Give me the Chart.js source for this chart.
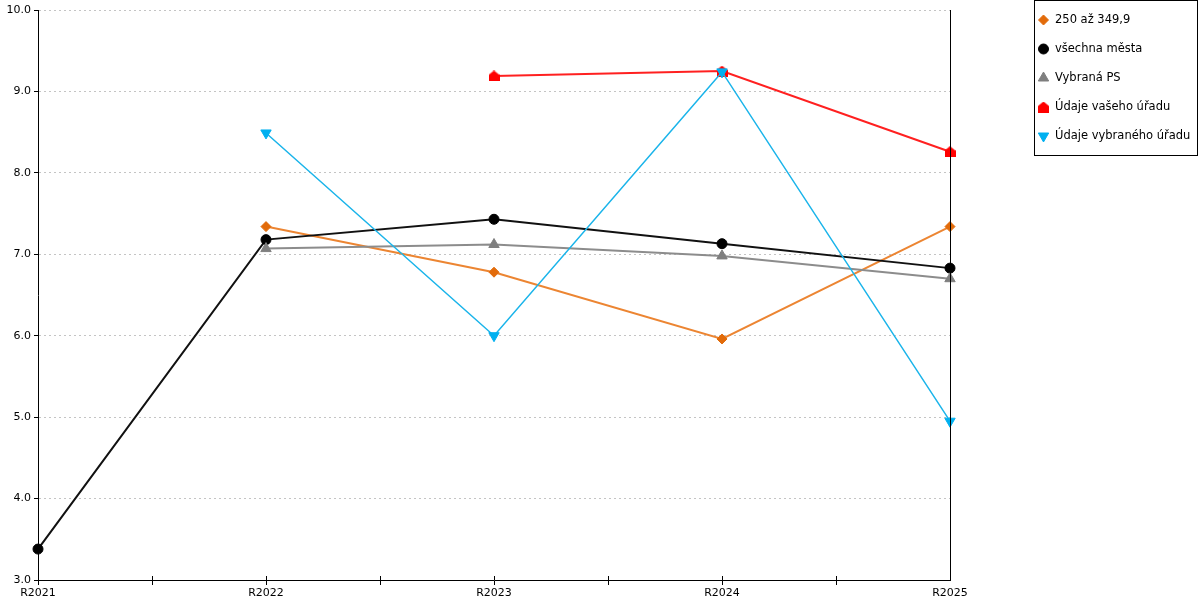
<!DOCTYPE html>
<html>
<head>
<meta charset="utf-8">
<script src="https://cdn.jsdelivr.net/npm/chart.js@4/dist/chart.umd.min.js"></script>
<style>
	html, body { margin: 0; padding: 0; background: #fff; }
	#wrap { width: 1200px; height: 600px; }
</style>
</head>
<body>
<div id="wrap"><canvas id="chart" width="1200" height="600"></canvas></div>
<script>
const categories = ["R2021", "R2022", "R2023", "R2024", "R2025"];
const seriesNames = ["250 až 349,9", "všechna města", "Vybraná PS", "Údaje vašeho úřadu", "Údaje vybraného úřadu"];
const groupValues = [null, 7.34, 6.78, 5.96, 7.34];
const allCities = [3.38, 7.18, 7.43, 7.13, 6.83];
const selectedPS = [null, 7.07, 7.12, 6.98, 6.70];
const yourOffice = [null, null, 9.19, 9.25, 8.26];
const chosenOffice = [null, 8.49, 6.0, 9.24, 4.95];
const yTicks = [3, 4, 5, 6, 7, 8, 9, 10];

// house shaped marker for "Údaje vašeho úřadu"
const house = document.createElement("canvas");
house.width = 11;
house.height = 11;
(function () {
	const c = house.getContext("2d");
	c.fillStyle = "#ff0000";
	c.beginPath();
	c.moveTo(5.5, 0);
	c.lineTo(11, 4.5);
	c.lineTo(11, 11);
	c.lineTo(0, 11);
	c.lineTo(0, 4.5);
	c.closePath();
	c.fill();
})();

const toPoints = (vals) => vals.map((v, i) => ({ x: i, y: v }));

const styles = [
	{ line: "#ec8532", fill: "#e26b0a", pointStyle: "rectRot", radius: 5, rotation: 0, width: 2 },
	{ line: "#111111", fill: "#000000", pointStyle: "circle", radius: 5, rotation: 0, width: 2 },
	{ line: "#8c8c8c", fill: "#7f7f7f", pointStyle: "triangle", radius: 6, rotation: 0, width: 2 },
	{ line: "#ff2020", fill: "#ff0000", pointStyle: house, radius: 6, rotation: 0, width: 2 },
	{ line: "#1ab4ea", fill: "#00b0f0", pointStyle: "triangle", radius: 6, rotation: 180, width: 1.5 },
];
const values = [groupValues, allCities, selectedPS, yourOffice, chosenOffice];

const datasets = values.map((vals, i) => ({
	label: seriesNames[i],
	data: toPoints(vals),
	borderColor: styles[i].line,
	borderWidth: styles[i].width,
	backgroundColor: styles[i].fill,
	pointBackgroundColor: styles[i].fill,
	pointBorderColor: styles[i].fill,
	pointBorderWidth: 1,
	pointStyle: styles[i].pointStyle,
	pointRadius: styles[i].radius,
	pointRotation: styles[i].rotation,
	tension: 0,
	spanGaps: false,
	clip: false,
	order: values.length - i,
}));

// right border line, inner x ticks + boxed legend
const frame = {
	id: "frame",
	afterDatasetsDraw(chart) {
		const c = chart.ctx;
		const a = chart.chartArea;
		c.save();
		c.strokeStyle = "#000";
		c.lineWidth = 1;
		c.beginPath();
		c.moveTo(Math.round(a.right) + 0.5, a.top);
		c.lineTo(Math.round(a.right) + 0.5, a.bottom);
		const xs = chart.scales.x;
		xs.ticks.forEach((t) => {
			if (t.value >= categories.length - 1) return;
			const px = Math.round(xs.getPixelForValue(t.value)) + 0.5;
			c.moveTo(px, a.bottom);
			c.lineTo(px, a.bottom - 4);
		});
		c.stroke();
		c.restore();
	},
	afterDraw(chart) {
		const c = chart.ctx;
		c.save();
		c.strokeStyle = "#000";
		c.lineWidth = 1;
		c.strokeRect(1034.5, 0.5, 163, 155);
		c.font = "11.5px 'DejaVu Sans'";
		c.textBaseline = "middle";
		c.textAlign = "left";
		seriesNames.forEach((name, i) => {
			const y = 20 + i * 29;
			const s = styles[i];
			c.fillStyle = s.fill;
			c.strokeStyle = s.fill;
			if (Chart.helpers && Chart.helpers.drawPoint) {
				Chart.helpers.drawPoint(c, {
					pointStyle: s.pointStyle,
					radius: s.radius,
					rotation: s.rotation,
					borderWidth: 1,
				}, 1043.5, y);
			}
			c.fillStyle = "#000";
			c.fillText(name, 1055, y);
		});
		c.restore();
	},
};

const config = {
	type: "line",
	data: { datasets: datasets },
	options: {
		responsive: false,
		animation: false,
		events: [],
		layout: { padding: { top: 10, right: 250, left: 0, bottom: 0 } },
		scales: {
			x: {
				type: "linear",
				min: 0,
				max: categories.length - 1,
				afterBuildTicks: (scale) => {
					const t = [];
					for (let v = 0; v <= categories.length - 1; v += 0.5) t.push({ value: v });
					scale.ticks = t;
				},
				afterFit: (scale) => { scale.height = 20; },
				ticks: {
					autoSkip: false,
					maxRotation: 0,
					padding: 2,
					color: "#000",
					font: { family: "'DejaVu Sans'", size: 11 },
					callback: (v) => (Number.isInteger(v) ? categories[v] : ""),
				},
				grid: {
					drawOnChartArea: false,
					tickLength: 5,
					tickColor: (ctx) => (ctx.tick && ctx.tick.value >= categories.length - 1 ? "rgba(0,0,0,0)" : "#000"),
				},
				border: { color: "#000", width: 1 },
			},
			y: {
				min: 3,
				max: 10,
				afterBuildTicks: (scale) => {
					scale.ticks = yTicks.map((v) => ({ value: v }));
				},
				afterFit: (scale) => { scale.width = 38; },
				ticks: {
					padding: 3,
					color: "#000",
					font: { family: "'DejaVu Sans'", size: 11 },
					callback: (v) => v.toFixed(1),
				},
				grid: {
					color: "#c4c4c4",
					tickColor: "#000",
					tickLength: 4,
					tickBorderDash: [],
				},
				border: { color: "#000", width: 1, dash: [2, 3] },
			},
		},
		plugins: {
			legend: { display: false },
			tooltip: { enabled: false },
		},
	},
	plugins: [frame],
};

const myChart = new Chart(document.getElementById("chart").getContext("2d"), config);
</script>
</body>
</html>
